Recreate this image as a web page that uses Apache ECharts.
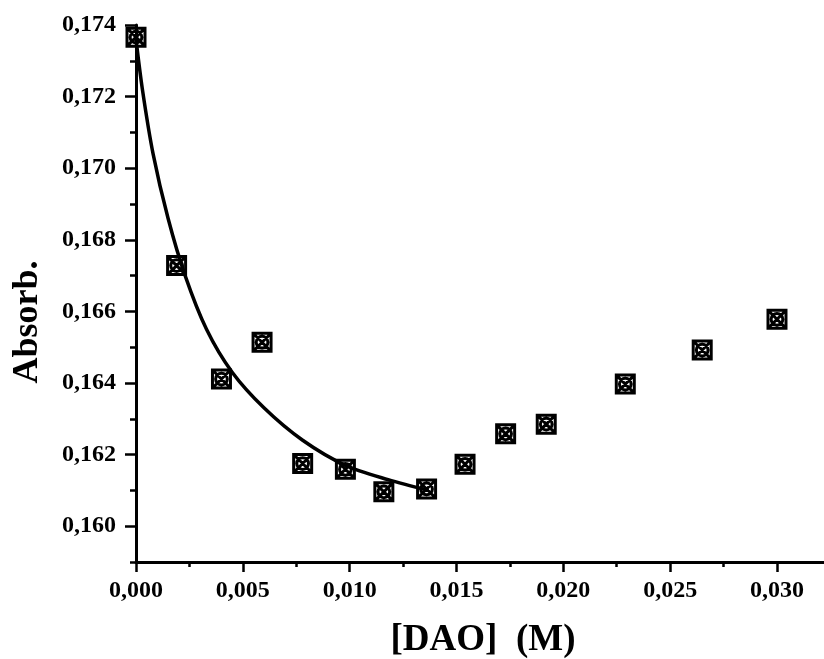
<!DOCTYPE html>
<html><head><meta charset="utf-8">
<script src="https://cdn.jsdelivr.net/npm/echarts@6/dist/echarts.min.js"></script>
<style>html,body{margin:0;padding:0;background:#fff}#c{width:824px;height:659px}</style>
</head><body><div id="c"></div><script>
// Measured data points: [DAO] concentration (M) and absorbance
const concentration = [0.0000, 0.0019, 0.0040, 0.0059, 0.0078, 0.0098, 0.0116, 0.0136, 0.0154, 0.0173, 0.0192, 0.0229, 0.0265, 0.0300];
const absorbance    = [0.17366, 0.16728, 0.16411, 0.16514, 0.16175, 0.16159, 0.16096, 0.16104, 0.16173, 0.16258, 0.16285, 0.16397, 0.16492, 0.16578];
// Fitted curve
const fitX = [0.0000, 0.0003, 0.0008, 0.0015, 0.0023, 0.0033, 0.0045, 0.0060, 0.0078, 0.0098, 0.0118, 0.0137];
const fitY = [0.1736, 0.1722, 0.1704, 0.1686, 0.1670, 0.1655, 0.1643, 0.1633, 0.1624, 0.1617, 0.1613, 0.1610];
// Tick values
const yMajorTicks = [0.160, 0.162, 0.164, 0.166, 0.168, 0.170, 0.172, 0.174];
const yMinorTicks = [0.159, 0.161, 0.163, 0.165, 0.167, 0.169, 0.171, 0.173];
const xMajorTicks = [0.000, 0.005, 0.010, 0.015, 0.020, 0.025, 0.030];
const xMinorTicks = [0.0025, 0.0075, 0.0125, 0.0175, 0.0225, 0.0275];
const xTitle = '[DAO]  (M)';
const yTitle = 'Absorb.';

const FONT = '"Liberation Serif", "Times New Roman", serif';
const fmt = v => Number(v).toFixed(3).replace('.', ',');
const marker = 'path://M0,0H20V20H0Z M0,0L20,20 M20,0L0,20 M10,3.5A6.5,6.5 0 1,1 9.99,3.5Z';

const chart = echarts.init(document.getElementById('c'), null, {renderer: 'canvas'});
const lineStyle = {color: '#000', width: 3};
chart.setOption({
  backgroundColor: '#fff',
  animation: false,
  grid: {left: 136, right: 0, top: 25, bottom: 97, containLabel: false, outerBoundsMode: 'none'},
  xAxis: [{
    type: 'value', min: 0, max: 0.0322, position: 'bottom',
    axisLine: {show: true, onZero: false, lineStyle: lineStyle},
    axisTick: {show: true, length: 10, customValues: xMajorTicks, lineStyle: {color: '#000', width: 2.5}},
    axisLabel: {customValues: xMajorTicks, formatter: fmt, margin: 17, color: '#000',
                fontFamily: FONT, fontWeight: 'bold', fontSize: 24},
    splitLine: {show: false}
  }, {
    type: 'value', min: 0, max: 0.0322, position: 'bottom',
    axisLine: {show: false, onZero: false},
    axisTick: {show: true, length: 5, customValues: xMinorTicks, lineStyle: {color: '#000', width: 2.5}},
    axisLabel: {show: false},
    splitLine: {show: false}
  }],
  yAxis: [{
    type: 'value', min: 0.159, max: 0.174, position: 'left',
    axisLine: {show: true, onZero: false, lineStyle: lineStyle},
    axisTick: {show: true, length: 11, customValues: yMajorTicks, lineStyle: {color: '#000', width: 2.5}},
    axisLabel: {customValues: yMajorTicks, formatter: fmt, margin: 20, color: '#000',
                fontFamily: FONT, fontWeight: 'bold', fontSize: 24},
    splitLine: {show: false}
  }, {
    type: 'value', min: 0.159, max: 0.174, position: 'left',
    axisLine: {show: false, onZero: false},
    axisTick: {show: true, length: 6, customValues: yMinorTicks, lineStyle: {color: '#000', width: 2.5}},
    axisLabel: {show: false},
    splitLine: {show: false}
  }],
  graphic: [
    {type: 'text', x: 483, y: 640,
     style: {text: xTitle, font: 'bold 37px ' + FONT, fill: '#000', align: 'center', verticalAlign: 'middle'}},
    {type: 'text', x: 28, y: 322, rotation: Math.PI / 2,
     style: {text: yTitle, font: 'bold 36px ' + FONT, fill: '#000', align: 'center', verticalAlign: 'middle'}}
  ],
  series: [{
    type: 'line', xAxisIndex: 0, yAxisIndex: 0,
    data: fitX.map((x, i) => [x, fitY[i]]),
    smooth: 0.3, showSymbol: false, symbol: 'none',
    lineStyle: {color: '#000', width: 3.5}, z: 2
  }, {
    type: 'scatter', xAxisIndex: 0, yAxisIndex: 0,
    data: concentration.map((x, i) => [x, absorbance[i]]),
    symbol: marker, symbolSize: 18,
    itemStyle: {color: 'rgba(0,0,0,0)', borderColor: '#000', borderWidth: 3, opacity: 1}, z: 3
  }]
});
</script></body></html>
